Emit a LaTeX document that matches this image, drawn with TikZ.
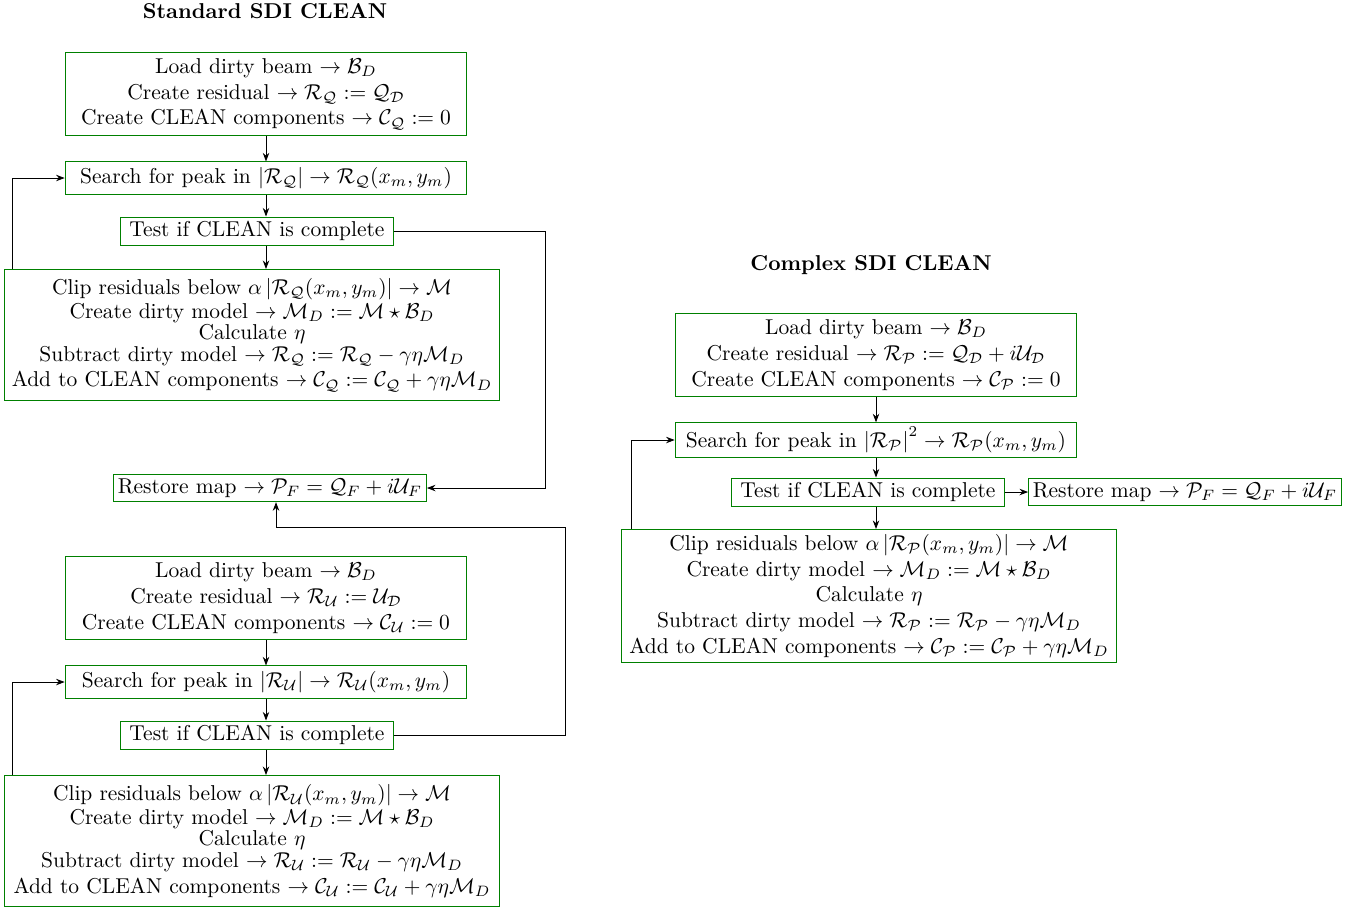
\documentclass[tikz,border=0pt]{standalone}
\usepackage{amsmath,amssymb}
\usepackage{tikz}
\usetikzlibrary{arrows.meta,positioning}
\definecolor{boxgreen}{RGB}{0,128,0}

\begin{document}
\begin{tikzpicture}[x=0.01635cm,y=-0.01635cm,
      stepbox/.style={draw=boxgreen,align=center,inner sep=2pt},
      testbox/.style={stepbox,minimum width=127pt},
      wide/.style={stepbox,minimum width=187pt},
      wider/.style={stepbox,minimum width=230pt},
      title/.style={font=\bfseries},
      link/.style={draw,-{Stealth[length=4pt,width=3pt]}}]
      \useasboundingbox (0,0) rectangle (1353,909);
      % standard SDI CLEAN, Q part
      \node[title] (tS) at (265,11) {Standard SDI CLEAN};
      \node[wide,minimum height=39pt] (qLoad) at (266,94)
        {Load dirty beam $\rightarrow \mathcal{B}_D$\\
         Create residual $\rightarrow \mathcal{R}_\mathcal{Q} := \mathcal{Q}_\mathcal{D}$\\
         Create CLEAN components $\rightarrow \mathcal{C}_\mathcal{Q} := 0$};
      \node[wide,minimum height=15pt] (qPeak) at (266,178)
        {Search for peak in $|\mathcal{R}_\mathcal{Q}| \rightarrow \mathcal{R}_\mathcal{Q}(x_m,y_m)$};
      \node[testbox] (qTest) at (257,231) {Test if CLEAN is complete};
      \node[wider,minimum height=61pt] (qClip) at (252,335)
        {Clip residuals below $\alpha \left|\mathcal{R}_\mathcal{Q}(x_m,y_m)\right| \rightarrow \mathcal{M}$\\[-1pt]
         Create dirty model $\rightarrow \mathcal{M}_D := \mathcal{M}\star\mathcal{B}_D$\\[-2pt]
         Calculate $\eta$\\[-2pt]
         Subtract dirty model $\rightarrow \mathcal{R}_\mathcal{Q} := \mathcal{R}_\mathcal{Q} - \gamma\eta\mathcal{M}_D$\\
         Add to CLEAN components $\rightarrow \mathcal{C}_\mathcal{Q} := \mathcal{C}_\mathcal{Q} + \gamma\eta\mathcal{M}_D$};
      \node[stepbox] (restore) at (270,488)
        {Restore map $\rightarrow \mathcal{P}_F = \mathcal{Q}_F + i\mathcal{U}_F$};
      % U part
      \node[wide,minimum height=39pt] (uLoad) at (266,598)
        {Load dirty beam $\rightarrow \mathcal{B}_D$\\
         Create residual $\rightarrow \mathcal{R}_\mathcal{U} := \mathcal{U}_\mathcal{D}$\\
         Create CLEAN components $\rightarrow \mathcal{C}_\mathcal{U} := 0$};
      \node[wide,minimum height=15pt] (uPeak) at (266,682)
        {Search for peak in $|\mathcal{R}_\mathcal{U}| \rightarrow \mathcal{R}_\mathcal{U}(x_m,y_m)$};
      \node[testbox] (uTest) at (257,735) {Test if CLEAN is complete};
      \node[wider,minimum height=61pt] (uClip) at (252,841)
        {Clip residuals below $\alpha \left|\mathcal{R}_\mathcal{U}(x_m,y_m)\right| \rightarrow \mathcal{M}$\\[-1pt]
         Create dirty model $\rightarrow \mathcal{M}_D := \mathcal{M}\star\mathcal{B}_D$\\[-2pt]
         Calculate $\eta$\\[-2pt]
         Subtract dirty model $\rightarrow \mathcal{R}_\mathcal{U} := \mathcal{R}_\mathcal{U} - \gamma\eta\mathcal{M}_D$\\
         Add to CLEAN components $\rightarrow \mathcal{C}_\mathcal{U} := \mathcal{C}_\mathcal{U} + \gamma\eta\mathcal{M}_D$};
      % complex SDI CLEAN
      \node[title] (tC) at (871,265) {Complex SDI CLEAN};
      \node[wide,minimum height=39pt] (pLoad) at (876,355)
        {Load dirty beam $\rightarrow \mathcal{B}_D$\\
         Create residual $\rightarrow \mathcal{R}_\mathcal{P} := \mathcal{Q}_\mathcal{D} + i\mathcal{U}_\mathcal{D}$\\
         Create CLEAN components $\rightarrow \mathcal{C}_\mathcal{P} := 0$};
      \node[wide,minimum height=14pt] (pPeak) at (876,440)
        {Search for peak in $\left|\mathcal{R}_\mathcal{P}\right|^2 \rightarrow \mathcal{R}_\mathcal{P}(x_m,y_m)$};
      \node[testbox] (pTest) at (868,492) {Test if CLEAN is complete};
      \node[stepbox] (pRestore) at (1185,492)
        {Restore map $\rightarrow \mathcal{P}_F = \mathcal{Q}_F + i\mathcal{U}_F$};
      \node[wider,minimum height=62pt] (pClip) at (869,596)
        {Clip residuals below $\alpha \left|\mathcal{R}_\mathcal{P}(x_m,y_m)\right| \rightarrow \mathcal{M}$\\
         Create dirty model $\rightarrow \mathcal{M}_D := \mathcal{M}\star\mathcal{B}_D$\\
         Calculate $\eta$\\
         Subtract dirty model $\rightarrow \mathcal{R}_\mathcal{P} := \mathcal{R}_\mathcal{P} - \gamma\eta\mathcal{M}_D$\\
         Add to CLEAN components $\rightarrow \mathcal{C}_\mathcal{P} := \mathcal{C}_\mathcal{P} + \gamma\eta\mathcal{M}_D$};
      % turning points of the connectors
      \coordinate (qLoop) at (12,178);
      \coordinate (uLoop) at (12,682);
      \coordinate (pLoop) at (631,440);
      \coordinate (qRight) at (545,231);
      \coordinate (uRight) at (565,527);
      \coordinate (uTop) at (276,527);
      % connectors
      \draw[link] (qLoad.south) -- (qPeak.north);
      \draw[link] (qPeak.south) -- (qPeak.south |- qTest.north);
      \draw[link] (qPeak.south |- qTest.south) -- (qPeak.south |- qClip.north);
      \draw[link] (qLoop |- qClip.north) -- (qLoop) -- (qPeak.west);
      \draw[link] (qTest.east) -- (qRight) -- (qRight |- restore.east) -- (restore.east);
      \draw[link] (uLoad.south) -- (uPeak.north);
      \draw[link] (uPeak.south) -- (uPeak.south |- uTest.north);
      \draw[link] (uPeak.south |- uTest.south) -- (uPeak.south |- uClip.north);
      \draw[link] (uLoop |- uClip.north) -- (uLoop) -- (uPeak.west);
      \draw[link] (uTest.east) -- (uTest.east -| uRight) -- (uRight) -- (uTop) -- (uTop |- restore.south);
      \draw[link] (pLoad.south) -- (pPeak.north);
      \draw[link] (pPeak.south) -- (pPeak.south |- pTest.north);
      \draw[link] (pPeak.south |- pTest.south) -- (pPeak.south |- pClip.north);
      \draw[link] (pLoop |- pClip.north) -- (pLoop) -- (pPeak.west);
      \draw[link] (pTest.east) -- (pRestore.west);
\end{tikzpicture}
\end{document}
